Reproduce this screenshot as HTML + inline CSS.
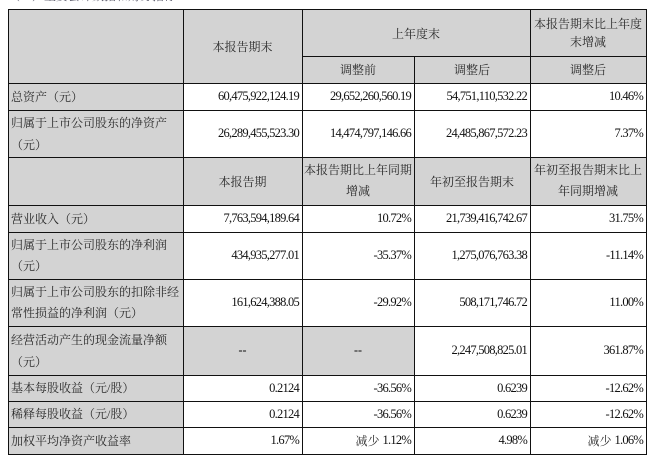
<!DOCTYPE html>
<html><head><meta charset="utf-8">
<style>
html,body{margin:0;padding:0;background:#fff;}
body{width:649px;height:461px;position:relative;overflow:hidden;font-family:"Liberation Serif","Noto Serif CJK SC",serif;color:#111;}
.bg{position:absolute;background:#d3d3d3;}
.h{position:absolute;height:1px;background:#111;}
.v{position:absolute;width:1px;background:#111;}
.c{position:absolute;display:flex;align-items:center;box-sizing:border-box;font-size:12px;white-space:nowrap;}
.l{justify-content:flex-start;padding-left:2px;line-height:22px;color:#2a2a2a;}
.r{justify-content:flex-end;padding-right:3px;letter-spacing:-0.75px;font-size:12.5px;}
.m{justify-content:center;text-align:center;color:#2a2a2a;}
.title{position:absolute;left:8px;top:-10px;font-size:12px;line-height:12px;color:#556;font-family:"Liberation Serif","Noto Serif CJK SC",serif;}
.cj{font-size:12px;letter-spacing:0;color:#333;margin-right:3px;}
</style></head><body>
<div class="title">（一）主要会计数据和财务指标</div>

<div class="bg" style="left:9px;top:10px;width:637px;height:73px;"></div>
<div class="bg" style="left:9px;top:83px;width:174px;height:371px;"></div>
<div class="bg" style="left:9px;top:157px;width:637px;height:48px;"></div>
<div class="bg" style="left:183px;top:326px;width:231px;height:49px;"></div>

<div class="h" style="left:8px;width:639px;top:9px;"></div>
<div class="h" style="left:302px;width:345px;top:56px;"></div>
<div class="h" style="left:8px;width:639px;top:83px;"></div>
<div class="h" style="left:8px;width:639px;top:110px;"></div>
<div class="h" style="left:8px;width:639px;top:157px;"></div>
<div class="h" style="left:8px;width:639px;top:205px;"></div>
<div class="h" style="left:8px;width:639px;top:232px;"></div>
<div class="h" style="left:8px;width:639px;top:279px;"></div>
<div class="h" style="left:8px;width:639px;top:326px;"></div>
<div class="h" style="left:8px;width:639px;top:375px;"></div>
<div class="h" style="left:8px;width:639px;top:401px;"></div>
<div class="h" style="left:8px;width:639px;top:427px;"></div>
<div class="h" style="left:8px;width:639px;top:454px;"></div>
<div class="v" style="left:8px;top:9px;height:446px;"></div>
<div class="v" style="left:183px;top:9px;height:446px;"></div>
<div class="v" style="left:302px;top:9px;height:446px;"></div>
<div class="v" style="left:414px;top:56px;height:399px;"></div>
<div class="v" style="left:530px;top:9px;height:446px;"></div>
<div class="v" style="left:646px;top:9px;height:446px;"></div>

<div class="c m" style="left:183px;top:10px;width:119px;height:73px;">本报告期末</div>
<div class="c m" style="left:302px;top:10px;width:228px;height:46px;">上年度末</div>
<div class="c m" style="left:530px;top:10px;width:116px;height:46px;line-height:18px;">本报告期末比上年度<br>末增减</div>
<div class="c m" style="left:302px;top:56px;width:112px;height:27px;">调整前</div>
<div class="c m" style="left:414px;top:56px;width:116px;height:27px;">调整后</div>
<div class="c m" style="left:530px;top:56px;width:116px;height:27px;">调整后</div>

<div class="c l" style="left:9px;top:83px;width:174px;height:27px;">总资产（元）</div>
<div class="c r" style="left:183px;top:83px;width:119px;height:27px;">60,475,922,124.19</div>
<div class="c r" style="left:302px;top:83px;width:112px;height:27px;">29,652,260,560.19</div>
<div class="c r" style="left:414px;top:83px;width:116px;height:27px;">54,751,110,532.22</div>
<div class="c r" style="left:530px;top:83px;width:116px;height:27px;">10.46%</div>

<div class="c l" style="left:9px;top:110px;width:174px;height:47px;">归属于上市公司股东的净资产<br>（元）</div>
<div class="c r" style="left:183px;top:110px;width:119px;height:47px;">26,289,455,523.30</div>
<div class="c r" style="left:302px;top:110px;width:112px;height:47px;">14,474,797,146.66</div>
<div class="c r" style="left:414px;top:110px;width:116px;height:47px;">24,485,867,572.23</div>
<div class="c r" style="left:530px;top:110px;width:116px;height:47px;">7.37%</div>

<div class="c m" style="left:183px;top:157px;width:119px;height:48px;">本报告期</div>
<div class="c m" style="left:302px;top:157px;width:112px;height:48px;line-height:21px;">本报告期比上年同期<br>增减</div>
<div class="c m" style="left:414px;top:157px;width:116px;height:48px;">年初至报告期末</div>
<div class="c m" style="left:530px;top:157px;width:116px;height:48px;line-height:21px;">年初至报告期末比上<br>年同期增减</div>

<div class="c l" style="left:9px;top:205px;width:174px;height:27px;">营业收入（元）</div>
<div class="c r" style="left:183px;top:205px;width:119px;height:27px;">7,763,594,189.64</div>
<div class="c r" style="left:302px;top:205px;width:112px;height:27px;">10.72%</div>
<div class="c r" style="left:414px;top:205px;width:116px;height:27px;">21,739,416,742.67</div>
<div class="c r" style="left:530px;top:205px;width:116px;height:27px;">31.75%</div>

<div class="c l" style="left:9px;top:232px;width:174px;height:47px;line-height:21px;">归属于上市公司股东的净利润<br>（元）</div>
<div class="c r" style="left:183px;top:232px;width:119px;height:47px;">434,935,277.01</div>
<div class="c r" style="left:302px;top:232px;width:112px;height:47px;">-35.37%</div>
<div class="c r" style="left:414px;top:232px;width:116px;height:47px;">1,275,076,763.38</div>
<div class="c r" style="left:530px;top:232px;width:116px;height:47px;">-11.14%</div>

<div class="c l" style="left:9px;top:279px;width:174px;height:47px;line-height:21px;">归属于上市公司股东的扣除非经<br>常性损益的净利润（元）</div>
<div class="c r" style="left:183px;top:279px;width:119px;height:47px;">161,624,388.05</div>
<div class="c r" style="left:302px;top:279px;width:112px;height:47px;">-29.92%</div>
<div class="c r" style="left:414px;top:279px;width:116px;height:47px;">508,171,746.72</div>
<div class="c r" style="left:530px;top:279px;width:116px;height:47px;">11.00%</div>

<div class="c l" style="left:9px;top:326px;width:174px;height:49px;line-height:22px;">经营活动产生的现金流量净额<br>（元）</div>
<div class="c m" style="left:183px;top:326px;width:119px;height:49px;font-weight:bold;color:#111;">--</div>
<div class="c m" style="left:302px;top:326px;width:112px;height:49px;font-weight:bold;color:#111;">--</div>
<div class="c r" style="left:414px;top:326px;width:116px;height:49px;">2,247,508,825.01</div>
<div class="c r" style="left:530px;top:326px;width:116px;height:49px;">361.87%</div>

<div class="c l" style="left:9px;top:375px;width:174px;height:26px;">基本每股收益（元/股）</div>
<div class="c r" style="left:183px;top:375px;width:119px;height:26px;">0.2124</div>
<div class="c r" style="left:302px;top:375px;width:112px;height:26px;">-36.56%</div>
<div class="c r" style="left:414px;top:375px;width:116px;height:26px;">0.6239</div>
<div class="c r" style="left:530px;top:375px;width:116px;height:26px;">-12.62%</div>

<div class="c l" style="left:9px;top:401px;width:174px;height:26px;">稀释每股收益（元/股）</div>
<div class="c r" style="left:183px;top:401px;width:119px;height:26px;">0.2124</div>
<div class="c r" style="left:302px;top:401px;width:112px;height:26px;">-36.56%</div>
<div class="c r" style="left:414px;top:401px;width:116px;height:26px;">0.6239</div>
<div class="c r" style="left:530px;top:401px;width:116px;height:26px;">-12.62%</div>

<div class="c l" style="left:9px;top:427px;width:174px;height:27px;">加权平均净资产收益率</div>
<div class="c r" style="left:183px;top:427px;width:119px;height:27px;">1.67%</div>
<div class="c r" style="left:302px;top:427px;width:112px;height:27px;"><span class="cj">减少</span>1.12%</div>
<div class="c r" style="left:414px;top:427px;width:116px;height:27px;">4.98%</div>
<div class="c r" style="left:530px;top:427px;width:116px;height:27px;"><span class="cj">减少</span>1.06%</div>

</body></html>
